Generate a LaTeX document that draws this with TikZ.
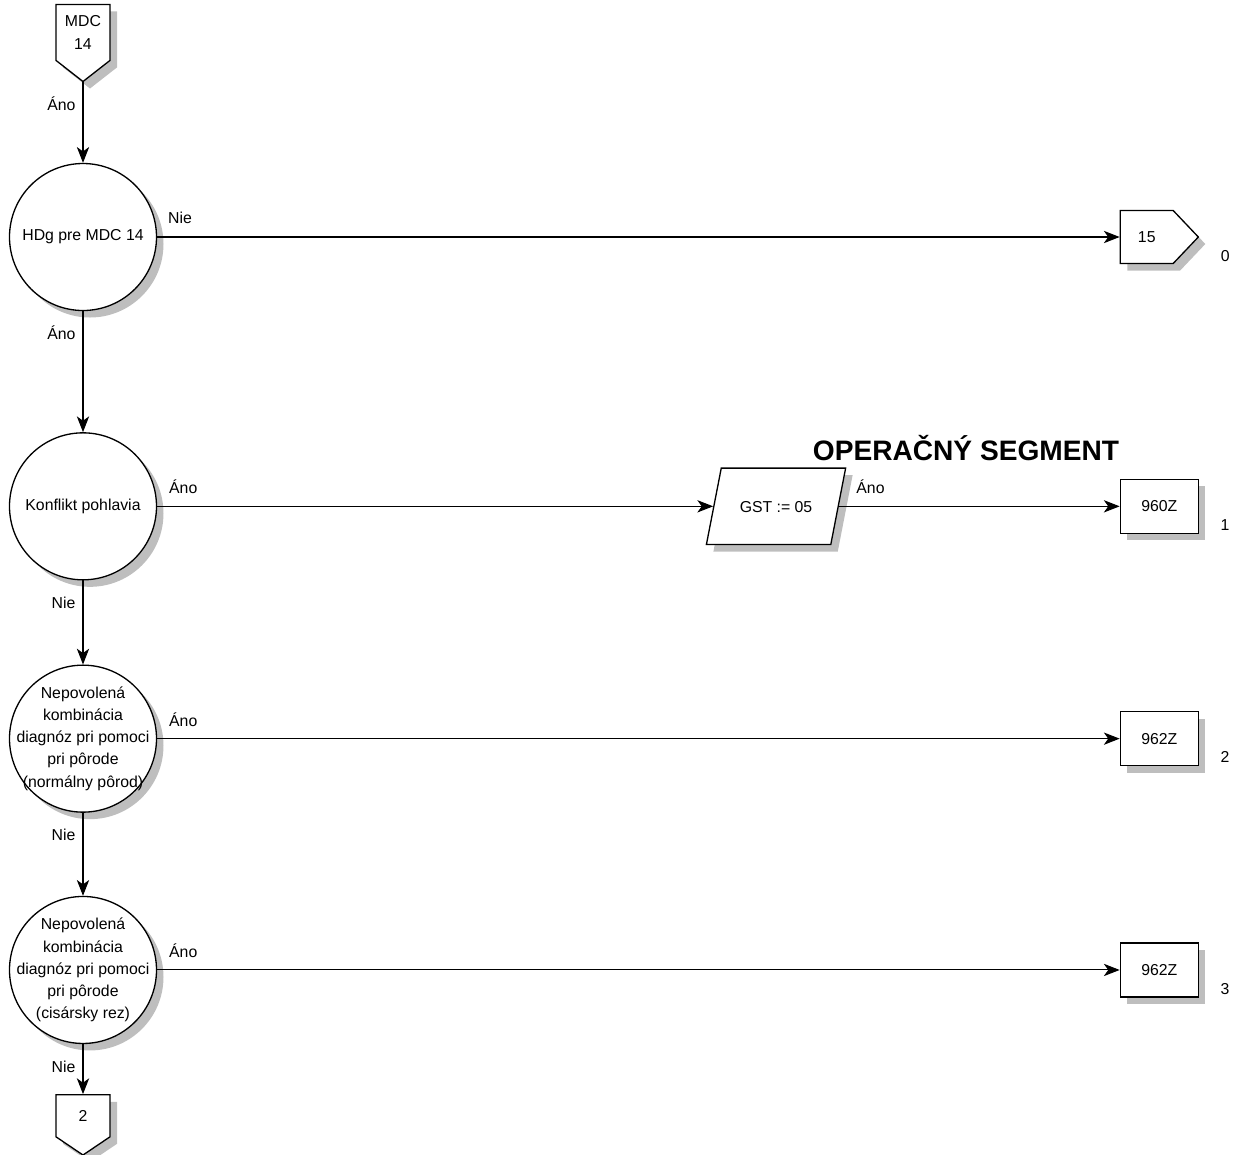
\documentclass[tikz,border=0pt]{standalone}
\usepackage{fontspec}
\setmainfont{Liberation Sans}
\usetikzlibrary{shapes.geometric, shapes.symbols, arrows.meta, positioning, shadows}

\begin{document}
\begin{tikzpicture}[
        >={Stealth[length=9pt, width=7pt, inset=2.5pt]},
        font=\fontsize{9}{12.6}\selectfont,
        line width=0.6pt,
        shadowed/.style={drop shadow={shadow xshift=0.14cm, shadow yshift=-0.14cm, fill=shadowgray, opacity=1}},
        decision/.style={draw, line width=0.75pt, circle, fill=white, minimum size=2.94cm, inner sep=0pt, shadowed},
        dectext/.style={align=center, inner sep=0pt},
        endbox/.style={draw, line width=0.75pt, rectangle, fill=white, minimum width=1.56cm, minimum height=1.08cm, inner sep=0pt, shadowed},
        offdown/.style={draw, line width=0.75pt, signal, signal to=south, fill=white, inner sep=0pt, align=center, shadowed},
        offright/.style={draw, line width=0.75pt, signal, signal to=east, fill=white, inner sep=0pt, shadowed},
        assign/.style={draw, line width=0.75pt, trapezium, trapezium left angle=79, trapezium right angle=101,
            fill=white, text height=6.5pt, text depth=0pt, inner xsep=0.37cm, inner ysep=0.65cm, shadowed},
        lbl/.style={inner sep=0pt, text height=8pt, text depth=0pt},
    ]
    % Farby
    \definecolor{shadowgray}{RGB}{190,190,190}

    \useasboundingbox (0,0) rectangle (24.82,-23.08);

    % Rozhodnutia
    \node[decision] (hdg) at (1.66,-4.74) {HDg pre MDC 14};
    \node[decision, below=2.42cm of hdg] (konflikt) {Konflikt pohlavia};
    \node[decision, below=1.68cm of konflikt] (normal) {};
    \node[dectext] (normaltxt) at (normal) {Nepovolená\\kombinácia\\diagnóz pri pomoci\\pri pôrode\\(normálny pôrod)};
    \node[decision, below=1.66cm of normal] (cisar) {};
    \node[dectext] (cisartxt) at (cisar) {Nepovolená\\kombinácia\\diagnóz pri pomoci\\pri pôrode\\(cisársky rez)};

    % Spojky na iné strany
    \node[offdown, minimum width=1.08cm, minimum height=1.4cm, signal pointer angle=104, above=1.61cm of hdg] (mdc) {MDC\\14};
    \node[offdown, minimum width=1.08cm, minimum height=0.9cm, signal pointer angle=112, below=1.0cm of cisar] (dalej) {2};
    \node[offright, minimum width=1.56cm, minimum height=1.06cm, signal pointer angle=93, right=19.25cm of hdg] (mdc15) {15};

    % Priradenie a výstupy
    \node[assign, right=11.12cm of konflikt] (gst) {GST := 05};
    \node[endbox, right=19.25cm of konflikt] (z960) {960Z};
    \node[endbox, right=19.25cm of normal] (z962a) {962Z};
    \node[endbox, right=19.25cm of cisar] (z962b) {962Z};

    % Nadpis
    \node[font=\fontsize{16}{19}\selectfont\bfseries] (segment) at (19.32,-8.96) {OPERAČNÝ SEGMENT};

    % Šípky
    \draw[->] (mdc.south) -- (hdg.north);
    \draw[->] (hdg.east) -- (mdc15.west);
    \draw[->] (hdg.south) -- (konflikt.north);
    \draw[->] (konflikt.east) -- (gst.west);
    \draw[->] (gst.east) -- (z960.west);
    \draw[->] (konflikt.south) -- (normal.north);
    \draw[->] (normal.east) -- (z962a.west);
    \draw[->] (normal.south) -- (cisar.north);
    \draw[->] (cisar.east) -- (z962b.west);
    \draw[->] (cisar.south) -- (dalej.north);

    % Popisy vetiev
    \node[lbl, below left=0.27cm and 0.14cm of mdc.south] (a0) {Áno};
    \node[lbl, above right=0.26cm and 0.21cm of hdg.east] (n1) {Nie};
    \node[lbl, below left=0.27cm and 0.14cm of hdg.south] (a1) {Áno};
    \node[lbl, above right=0.24cm and 0.23cm of konflikt.east] (a2) {Áno};
    \node[lbl, above right=0.24cm and 0.34cm of gst.east] (a3) {Áno};
    \node[lbl, below left=0.27cm and 0.14cm of konflikt.south] (n2) {Nie};
    \node[lbl, above right=0.24cm and 0.23cm of normal.east] (a4) {Áno};
    \node[lbl, below left=0.27cm and 0.14cm of normal.south] (n3) {Nie};
    \node[lbl, above right=0.24cm and 0.23cm of cisar.east] (a5) {Áno};
    \node[lbl, below left=0.27cm and 0.14cm of cisar.south] (n4) {Nie};

    % Čísla výstupov
    \node[lbl, below right=0.19cm and 0.42cm of mdc15.east] (k0) {0};
    \node[lbl, below right=0.19cm and 0.42cm of z960.east] (k1) {1};
    \node[lbl, below right=0.19cm and 0.42cm of z962a.east] (k2) {2};
    \node[lbl, below right=0.19cm and 0.42cm of z962b.east] (k3) {3};

\end{tikzpicture}
\end{document}
